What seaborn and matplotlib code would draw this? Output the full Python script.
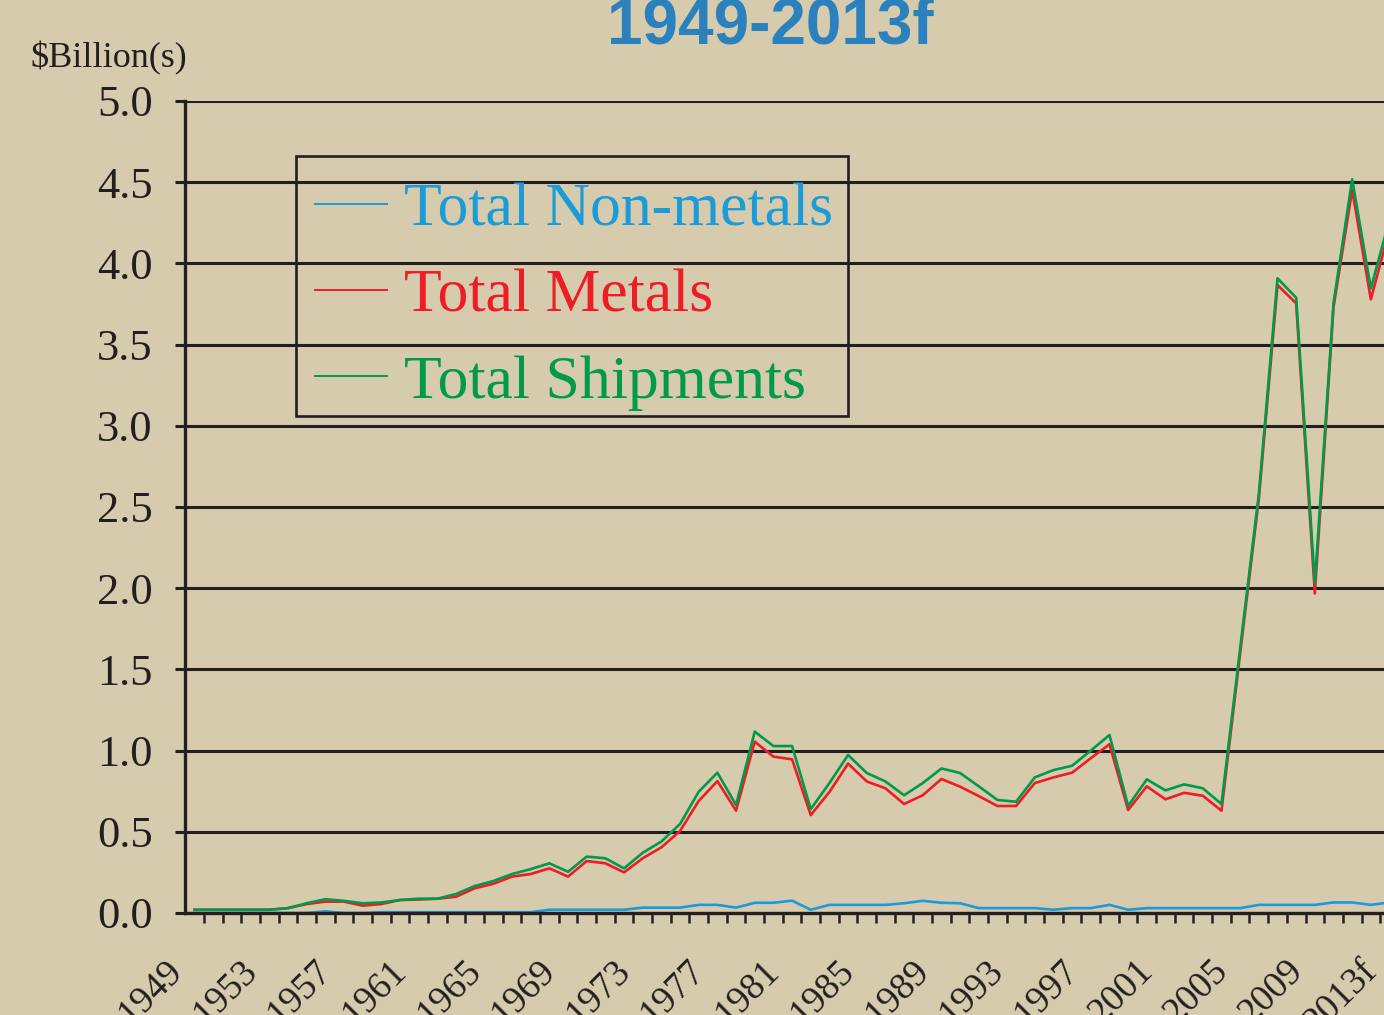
import numpy as np
import pandas as pd
import matplotlib
matplotlib.use('Agg')
import matplotlib.pyplot as plt
import matplotlib.transforms as mtransforms
import seaborn as sns

# Data, one value per year 1949..2013 ($ billions)
years = list(range(1949, 2014))
tick_labels = ['1949', '1953', '1957', '1961', '1965', '1969', '1973', '1977', '1981',
               '1985', '1989', '1993', '1997', '2001', '2005', '2009', '2013f']

non_metals = [0.0, 0.0, 0.0, 0.0, 0.0, 0.0, 0.0, 0.01, 0.0, 0.0,
              0.005, 0.005, 0.005, 0.005, 0.005, 0.005, 0.005, 0.005, 0.005, 0.02,
              0.02, 0.02, 0.02, 0.02, 0.033, 0.033, 0.033, 0.05, 0.05, 0.033,
              0.063, 0.063, 0.076, 0.02, 0.05, 0.05, 0.05, 0.05, 0.06, 0.075,
              0.063, 0.06, 0.03, 0.03, 0.03, 0.03, 0.02, 0.03, 0.03, 0.05,
              0.02, 0.03, 0.03, 0.03, 0.03, 0.03, 0.03, 0.05, 0.05, 0.05,
              0.05, 0.065, 0.065, 0.05, 0.065]

metals = [0.02, 0.02, 0.02, 0.02, 0.02, 0.03, 0.055, 0.07, 0.07, 0.045,
          0.055, 0.08, 0.083, 0.088, 0.10, 0.152, 0.18, 0.224, 0.24, 0.275,
          0.224, 0.32, 0.306, 0.25, 0.337, 0.404, 0.505, 0.69, 0.812, 0.63,
          1.055, 0.963, 0.946, 0.603, 0.745, 0.92, 0.81, 0.768, 0.671, 0.725,
          0.825, 0.778, 0.72, 0.659, 0.659, 0.80, 0.835, 0.864, 0.953, 1.039,
          0.634, 0.78, 0.70, 0.74, 0.722, 0.63, 1.60, 2.55, 3.867, 3.754,
          1.968, 3.73, 4.452, 3.779, 4.21]

shipments = [0.02, 0.02, 0.02, 0.02, 0.02, 0.03, 0.06, 0.085, 0.075, 0.06,
             0.065, 0.08, 0.088, 0.088, 0.117, 0.166, 0.197, 0.24, 0.27, 0.306,
             0.254, 0.347, 0.337, 0.275, 0.371, 0.44, 0.548, 0.747, 0.864, 0.665,
             1.117, 1.028, 1.028, 0.64, 0.80, 0.973, 0.862, 0.81, 0.725, 0.80,
             0.89, 0.862, 0.78, 0.696, 0.685, 0.835, 0.88, 0.907, 1.0, 1.096,
             0.659, 0.823, 0.755, 0.792, 0.768, 0.671, 1.63, 2.58, 3.908, 3.789,
             2.03, 3.754, 4.518, 3.846, 4.27]

series_names = ['Total Non-metals', 'Total Metals', 'Total Shipments']
series_colors = ['#1B9BD8', '#EE1D25', '#009A4A']

df = pd.DataFrame({'idx': np.arange(len(years)),
                   'Total Non-metals': non_metals,
                   'Total Metals': metals,
                   'Total Shipments': shipments})

bg = '#D6CBAD'
ink = '#231F20'
plt.rcParams['font.family'] = ['Liberation Serif', 'DejaVu Serif']

fig = plt.figure(figsize=(13.84, 10.15), dpi=100, facecolor=bg)
W, H = 1384, 1015
ax = fig.add_axes([185.3 / W, (H - 913) / H, 65 * 18.67 / W, 812 / H])
ax.set_facecolor(bg)

for name, col in zip(series_names, series_colors):
    sns.lineplot(data=df, x='idx', y=name, color=col, lw=1.9, ax=ax, label=name)

ax.set_xlim(-0.5, 64.5)
ax.set_ylim(0, 5)
ax.set_yticks(np.arange(0, 5.01, 0.5))
ax.set_yticklabels([f'{v:.1f}' for v in np.arange(0, 5.01, 0.5)], fontsize=32)
ax.yaxis.grid(True, color=ink, lw=2.2)
ax.set_axisbelow(True)

ax.set_xticks(np.arange(0, 65, 4))
ax.set_xticklabels(tick_labels, fontsize=27)
ax.set_xticks(np.arange(0.5, 64, 1), minor=True)
ax.tick_params(axis='x', which='major', length=0, pad=44)
ax.tick_params(axis='x', which='minor', length=7.5, width=1.8, color=ink, direction='out')
ax.tick_params(axis='y', length=7.5, width=2.2, color=ink, pad=16, labelcolor=ink)
shift = mtransforms.ScaledTranslation(-11 / 100, 2 / 100, fig.dpi_scale_trans)
for lab in ax.get_xticklabels():
    lab.set_rotation(45)
    lab.set_ha('right')
    lab.set_va('baseline')
    lab.set_rotation_mode('anchor')
    lab.set_color(ink)
    lab.set_transform(lab.get_transform() + shift)

ax.set_xlabel('')
ax.set_ylabel('')
for side in ['top', 'right']:
    ax.spines[side].set_visible(False)
for side in ['left', 'bottom']:
    ax.spines[side].set_color(ink)
    ax.spines[side].set_linewidth(2.4)

# legend entries without frame; the box is drawn separately
leg = ax.legend(loc='upper left', bbox_to_anchor=(296 / W, 1 - 164 / H),
                bbox_transform=fig.transFigure, borderaxespad=0,
                prop={'family': 'Liberation Serif', 'size': 44.5},
                handlelength=1.18, handletextpad=0.27, labelspacing=0.48,
                borderpad=0.3, frameon=False)
for txt, col in zip(leg.get_texts(), series_colors):
    txt.set_color(col)
for ln in leg.get_lines():
    ln.set_linewidth(1.4)
fig.add_artist(plt.Rectangle((296 / W, 1 - 416 / H), 552 / W, 260 / H,
                             transform=fig.transFigure, fill=False,
                             edgecolor=ink, lw=1.9))

fig.text(770 / W, 1 - 44 / H, '1949-2013f', ha='center', va='baseline',
         fontsize=46, fontweight='bold', color='#2B80BE',
         family=['Liberation Sans', 'DejaVu Sans'])
fig.text(30 / W, 1 - 67 / H, '\\$Billion(s)', ha='left', va='baseline',
         fontsize=26, color=ink)

fig.savefig('out.png', dpi=100, facecolor=bg)
